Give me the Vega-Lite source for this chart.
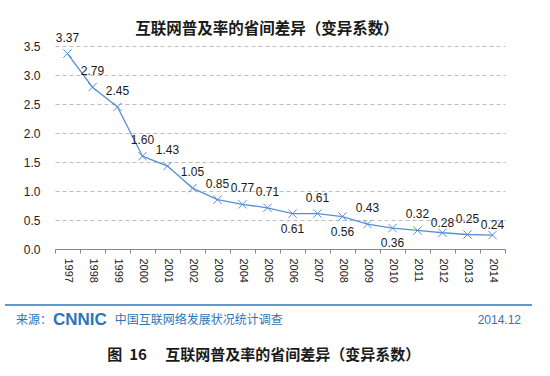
{
  "$schema": "https://vega.github.io/schema/vega-lite/v6.json",
  "autosize": "none",
  "width": 450,
  "height": 203,
  "padding": {"left": 55, "top": 46, "right": 45, "bottom": 127},
  "background": "white",
  "config": {"view": {"stroke": null}, "font": "Liberation Sans"},
  "title": {
    "text": "互联网普及率的省间差异（变异系数）",
    "font": "Noto Sans CJK SC",
    "fontSize": 15.5,
    "fontWeight": "bold",
    "color": "#1a1a1a",
    "anchor": "middle",
    "dx": -13,
    "offset": -6
  },
  "resolve": {"scale": {"x": "independent"}, "axis": {"x": "independent"}},
  "layer": [
    {
      "data": {"values": [
        {"year": "1997", "v": 3.37}, {"year": "1998", "v": 2.79}, {"year": "1999", "v": 2.45},
        {"year": "2000", "v": 1.60}, {"year": "2001", "v": 1.43}, {"year": "2002", "v": 1.05},
        {"year": "2003", "v": 0.85}, {"year": "2004", "v": 0.77}, {"year": "2005", "v": 0.71},
        {"year": "2006", "v": 0.61}, {"year": "2007", "v": 0.61}, {"year": "2008", "v": 0.56},
        {"year": "2009", "v": 0.43}, {"year": "2010", "v": 0.36}, {"year": "2011", "v": 0.32},
        {"year": "2012", "v": 0.28}, {"year": "2013", "v": 0.25}, {"year": "2014", "v": 0.24}
      ]},
      "encoding": {
        "x": {
          "field": "year", "type": "ordinal",
          "scale": {"type": "band", "paddingInner": 0, "paddingOuter": 0},
          "axis": {
            "title": null, "labelAngle": 90, "labelAlign": "left", "labelBaseline": "middle",
            "labelFontSize": 11, "labelColor": "#222", "labelPadding": 5,
            "tickBand": "extent", "tickSize": 4, "tickColor": "#888", "domainColor": "#888",
            "grid": false, "zindex": 1
          }
        },
        "y": {
          "field": "v", "type": "quantitative",
          "scale": {"domain": [0, 3.5], "nice": false, "zero": false},
          "axis": {
            "title": null, "values": [0, 0.5, 1, 1.5, 2, 2.5, 3, 3.5], "format": ".1f", "labelOverlap": false,
            "grid": true, "gridDash": [4, 3], "gridColor": "#bdbdbd", "domain": false, "ticks": false,
            "labelPadding": 15, "labelFontSize": 12, "labelColor": "#222"
          }
        }
      },
      "layer": [
        {"mark": {"type": "line", "color": "#5b8fd6", "strokeWidth": 1.3}},
        {"mark": {"type": "point", "shape": "M-1,-1L1,1M-1,1L1,-1", "size": 70, "filled": false, "strokeWidth": 1, "color": "#5b8fd6", "opacity": 1}},
        {
          "transform": [{"filter": {"not": {"field": "year", "oneOf": ["2006", "2008", "2010", "2012", "2014"]}}}],
          "mark": {"type": "text", "dy": -16, "fontSize": 12, "color": "#1a1a1a"},
          "encoding": {"text": {"field": "v", "type": "quantitative", "format": ".2f"}}
        },
        {
          "transform": [{"filter": {"field": "year", "oneOf": ["2006", "2008", "2010"]}}],
          "mark": {"type": "text", "dy": 15, "fontSize": 12, "color": "#1a1a1a"},
          "encoding": {"text": {"field": "v", "type": "quantitative", "format": ".2f"}}
        },
        {
          "transform": [{"filter": {"field": "year", "oneOf": ["2012", "2014"]}}],
          "mark": {"type": "text", "dy": -10, "fontSize": 12, "color": "#1a1a1a"},
          "encoding": {"text": {"field": "v", "type": "quantitative", "format": ".2f"}}
        }
      ]
    },
    {
      "data": {"values": [{}]},
      "encoding": {
        "x": {"datum": 0, "type": "quantitative", "scale": {"domain": [0, 1], "nice": false, "zero": false}, "axis": null},
        "y": {
          "datum": 0, "type": "quantitative",
          "scale": {"domain": [0, 3.5], "nice": false, "zero": false},
          "axis": {
            "title": null, "values": [0, 0.5, 1, 1.5, 2, 2.5, 3, 3.5], "format": ".1f", "labelOverlap": false,
            "grid": true, "gridDash": [4, 3], "gridColor": "#bdbdbd", "domain": false, "ticks": false,
            "labelPadding": 15, "labelFontSize": 12, "labelColor": "#222"
          }
        }
      },
      "layer": [
        {
          "mark": {"type": "rule", "color": "#5b9bd5", "strokeWidth": 2},
          "encoding": {
            "x": {"datum": -0.111, "type": "quantitative"},
            "x2": {"datum": 1.06},
            "y": {"datum": -0.966, "type": "quantitative"}
          }
        },
        {
          "mark": {"type": "text", "text": "来源：", "font": "Noto Sans CJK SC", "fontSize": 12, "color": "#2e75b6", "align": "left", "baseline": "middle"},
          "encoding": {"x": {"datum": -0.0867, "type": "quantitative"}, "y": {"datum": -1.224, "type": "quantitative"}}
        },
        {
          "mark": {"type": "text", "text": "CNNIC", "font": "Liberation Sans", "fontSize": 17, "fontWeight": "bold", "color": "#2e75b6", "align": "left", "baseline": "middle"},
          "encoding": {"x": {"datum": -0.0044, "type": "quantitative"}, "y": {"datum": -1.224, "type": "quantitative"}}
        },
        {
          "mark": {"type": "text", "text": "中国互联网络发展状况统计调查", "font": "Noto Sans CJK SC", "fontSize": 12, "color": "#2e75b6", "align": "left", "baseline": "middle"},
          "encoding": {"x": {"datum": 0.133, "type": "quantitative"}, "y": {"datum": -1.224, "type": "quantitative"}}
        },
        {
          "mark": {"type": "text", "text": "2014.12", "font": "Liberation Sans", "fontSize": 12, "color": "#2e75b6", "align": "right", "baseline": "middle"},
          "encoding": {"x": {"datum": 1.0356, "type": "quantitative"}, "y": {"datum": -1.224, "type": "quantitative"}}
        },
        {
          "mark": {"type": "text", "text": "图\u00a0\u00a016\u3000\u00a0互联网普及率的省间差异（变异系数）", "font": "Noto Sans CJK SC", "fontSize": 15, "fontWeight": "bold", "color": "#1a1a1a", "align": "center", "baseline": "middle"},
          "encoding": {"x": {"datum": 0.464, "type": "quantitative"}, "y": {"datum": -1.828, "type": "quantitative"}}
        }
      ]
    }
  ]
}
